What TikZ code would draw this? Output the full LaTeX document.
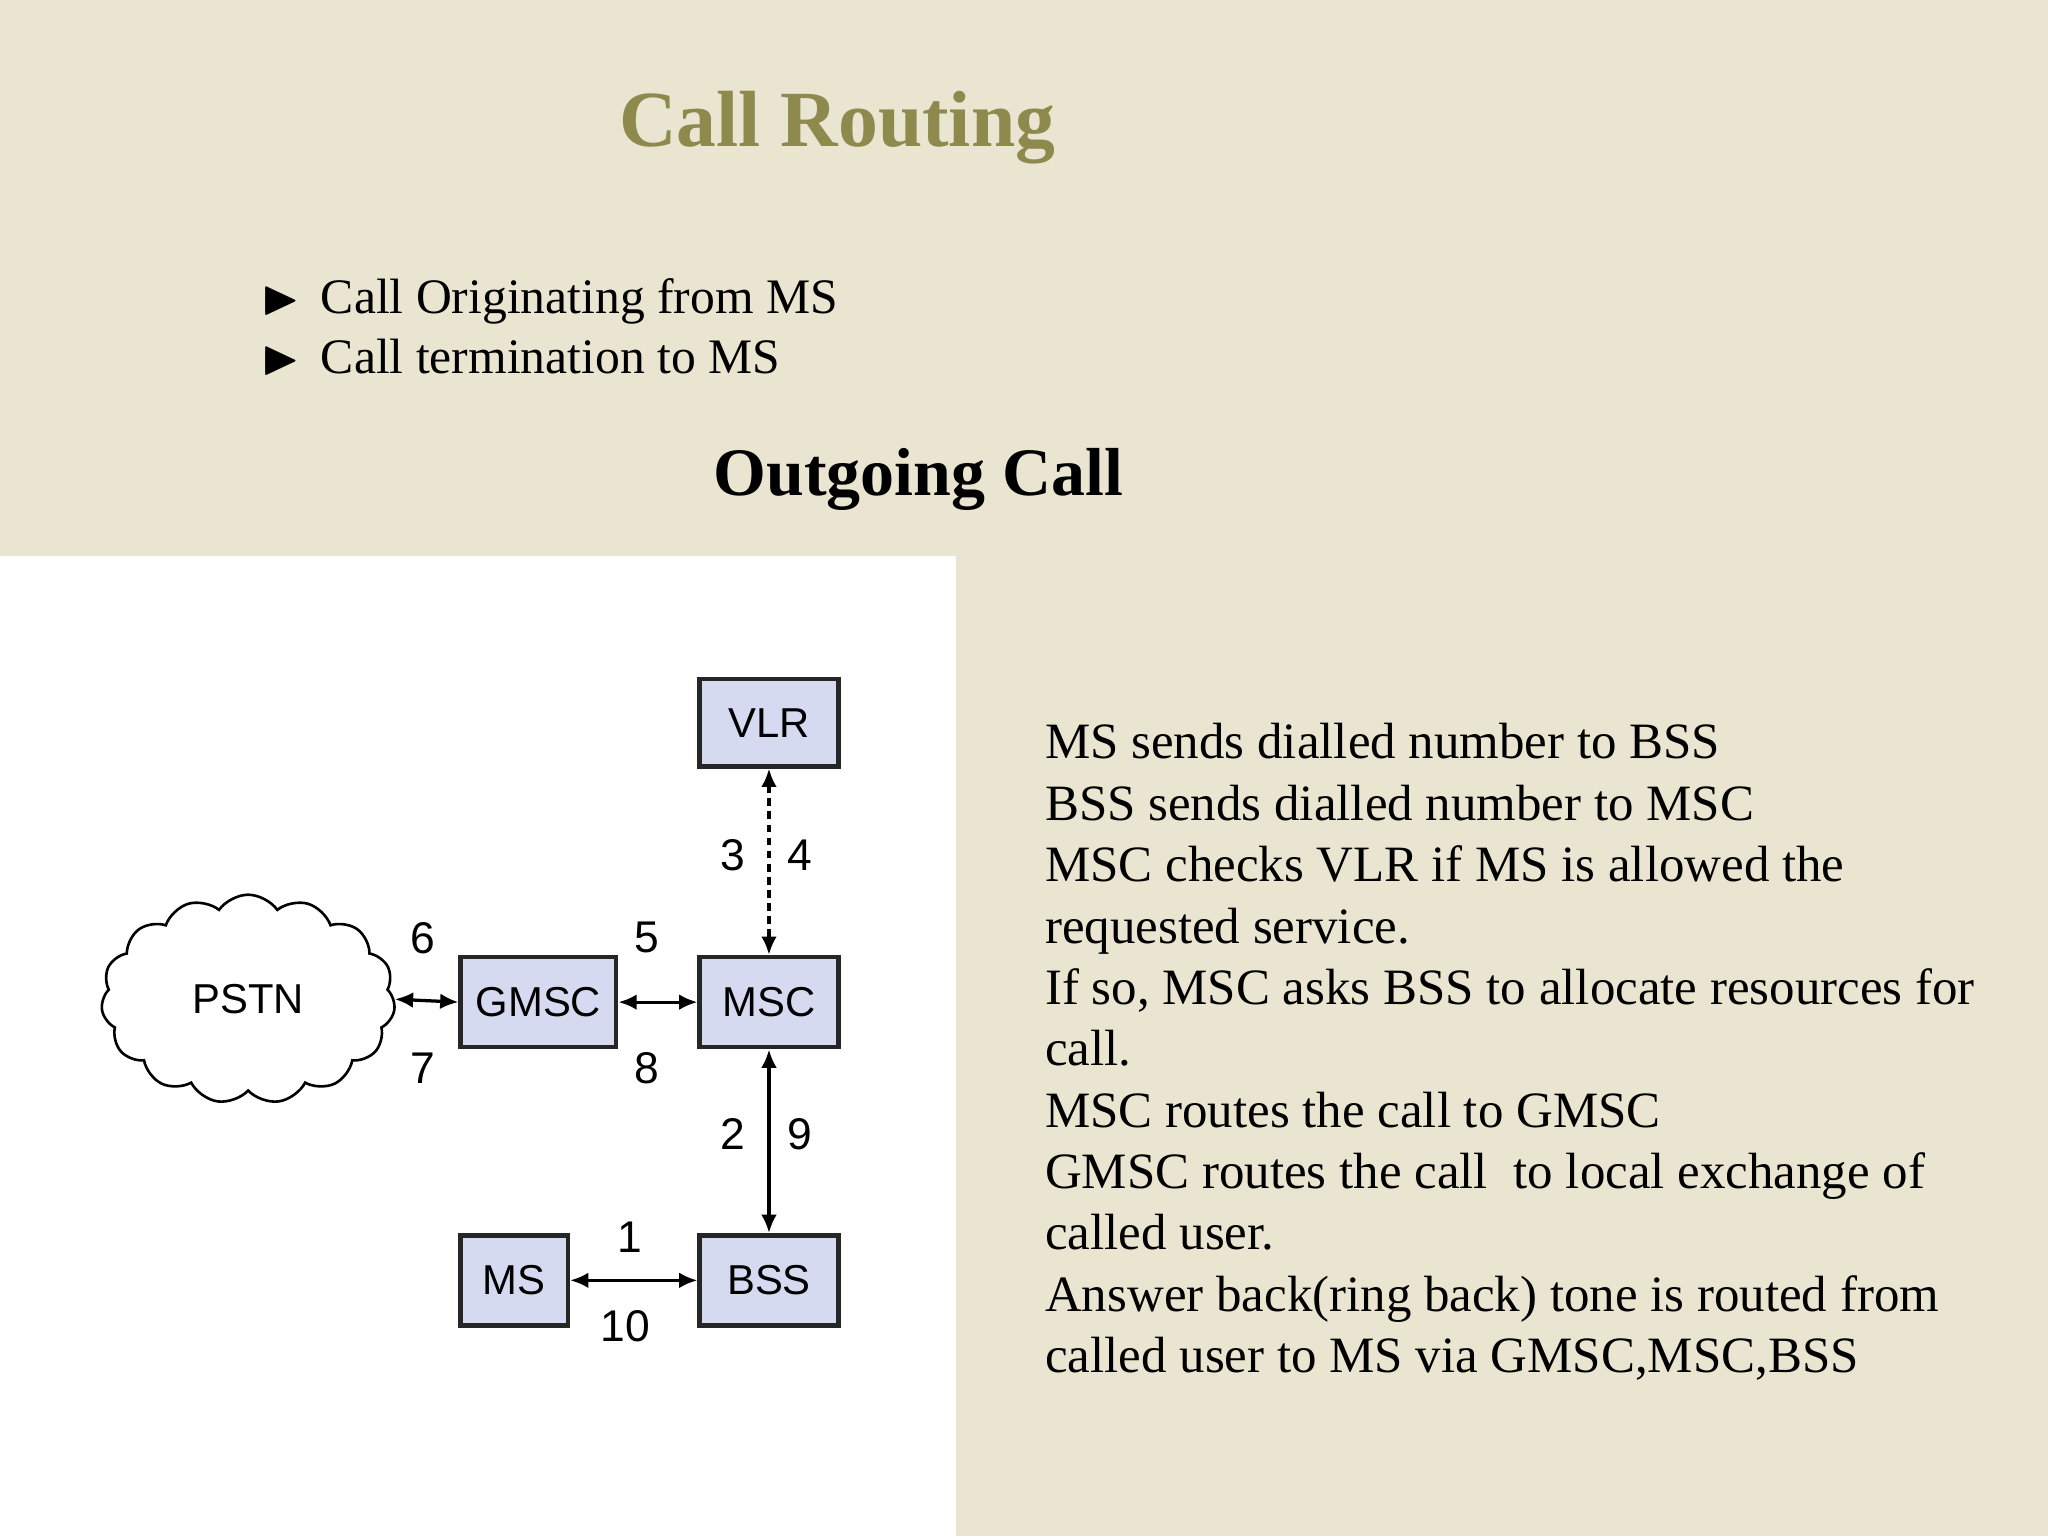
\documentclass[tikz,border=0pt]{standalone}
\usepackage{amssymb}
\usepackage{fontspec}
\setmainfont{Liberation Serif}
\newfontfamily\sansf{Liberation Sans}
\usetikzlibrary{shapes.symbols,arrows.meta}
\definecolor{bg}{HTML}{E9E5D0}
\definecolor{boxf}{HTML}{D6DAF0}
\definecolor{ttl}{HTML}{8E8A4E}
\begin{document}
\begin{tikzpicture}[x=1pt,y=-1pt,
 box/.style={draw=black!85,line width=3.5pt,fill=boxf,font=\sansf\fontsize{32}{32}\selectfont,inner sep=0,anchor=north west},
 lab/.style={font=\sansf\fontsize{34}{34}\selectfont},
 rt/.style={font=\fontsize{39}{47}\selectfont,anchor=base west,inner sep=0},
 ar/.style={line width=2.5pt,{Latex[length=14pt,width=12pt]}-{Latex[length=14pt,width=12pt]}}]
\useasboundingbox (0,0) rectangle (1568,1176);
\fill[bg] (0,0) rectangle (1568,1176);
\fill[white] (0,426) rectangle (732,1176);
\node[font=\bfseries\fontsize{61}{61}\selectfont,text=ttl] (title) at (641,98) {Call Routing};
\node[anchor=base west,inner sep=0,font=\fontsize{38}{40}\selectfont] (b1) at (200,240) {$\blacktriangleright$\hspace{16pt}Call Originating from MS};
\node[anchor=base west,inner sep=0,font=\fontsize{38}{40}\selectfont] (b2) at (200,286) {$\blacktriangleright$\hspace{16pt}Call termination to MS};
\node[font=\bfseries\fontsize{52}{52}\selectfont] (oc) at (703,367) {Outgoing Call};
\node[box,minimum width=106pt,minimum height=67pt] (vlr) at (534,518) {VLR};
\node[box,minimum width=119pt,minimum height=69pt] (gmsc) at (351,731) {GMSC};
\node[box,minimum width=106pt,minimum height=69pt] (msc) at (534,731) {MSC};
\node[box,minimum width=82pt,minimum height=69pt] (ms) at (351,944) {MS};
\node[box,minimum width=106pt,minimum height=69pt] (bss) at (534,944) {BSS};
\node[cloud,cloud puffs=15,cloud puff arc=110,aspect=1.5,draw,line width=2pt,minimum width=225pt,minimum height=160pt,font=\sansf\fontsize{32}{32}\selectfont] (pstn) at (190,765) {PSTN};
\draw[ar,dash pattern=on 6pt off 4pt] (vlr.south) -- (msc.north);
\draw[ar] (pstn.east) -- (gmsc.west);
\draw[ar] (gmsc.east) -- (msc.west);
\draw[ar] (msc.south) -- (bss.north);
\draw[ar] (ms.east) -- (bss.west);
\node[lab] (l3) at (561,655) {3}; \node[lab] (l4) at (612,655) {4};
\node[lab] (l6) at (324,718) {6}; \node[lab] (l7) at (324,818) {7};
\node[lab] (l5) at (495,718) {5}; \node[lab] (l8) at (495,818) {8};
\node[lab] (l2) at (561,868) {2}; \node[lab] (l9) at (612,868) {9};
\node[lab] (l1) at (482,947) {1}; \node[lab] (l10) at (479,1015) {10};
\node[rt] (t1) at (800,581) {MS sends dialled number to BSS};
\node[rt] (t2) at (800,628) {BSS sends dialled number to MSC};
\node[rt] (t3) at (800,675) {MSC checks VLR if MS is allowed the};
\node[rt] (t4) at (800,722) {requested service.};
\node[rt] (t5) at (800,769) {If so, MSC asks BSS to allocate resources for};
\node[rt] (t6) at (800,816) {call.};
\node[rt] (t7) at (800,863) {MSC routes the call to GMSC};
\node[rt] (t8) at (800,910) {GMSC routes the call \ to local exchange of};
\node[rt] (t9) at (800,957) {called user.};
\node[rt] (t10) at (800,1004) {Answer back(ring back) tone is routed from};
\node[rt] (t11) at (800,1051) {called user to MS via GMSC,MSC,BSS};
\end{tikzpicture}
\end{document}
